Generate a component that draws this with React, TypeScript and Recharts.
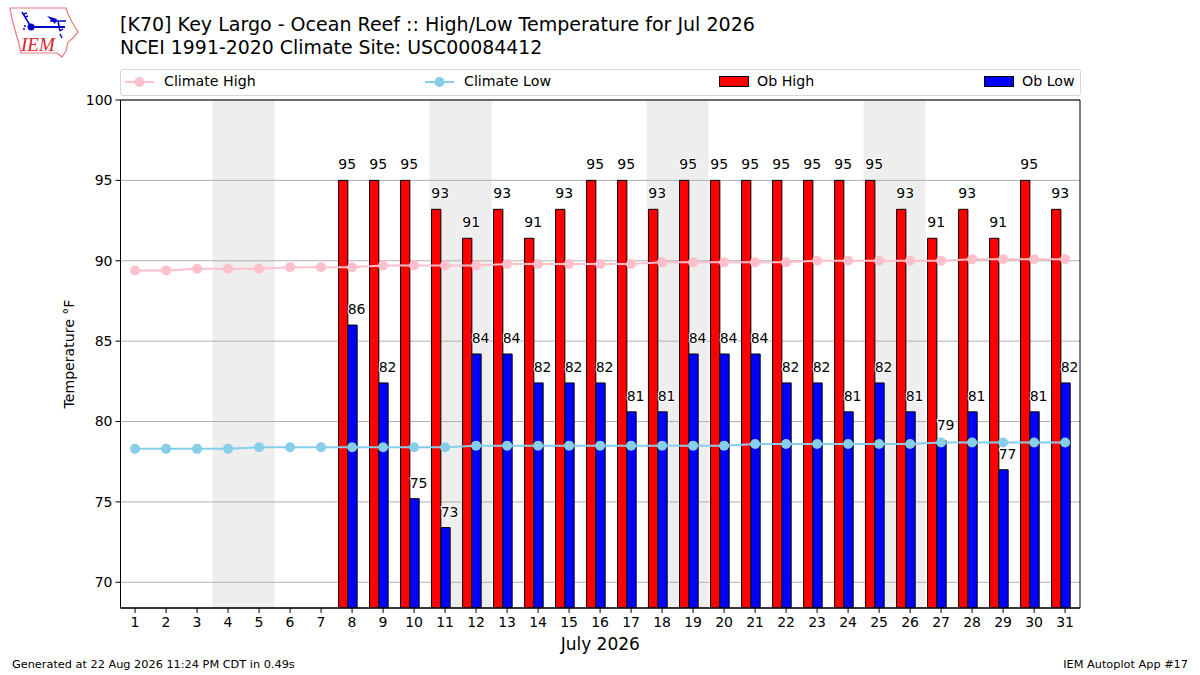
import {
  ComposedChart, Bar, Line, XAxis, YAxis, CartesianGrid, ReferenceArea, LabelList,
} from 'recharts'

const FONT = '"DejaVu Sans", sans-serif'

const days = [1, 2, 3, 4, 5, 6, 7, 8, 9, 10, 11, 12, 13, 14, 15, 16, 17, 18, 19, 20, 21, 22, 23, 24, 25, 26, 27, 28, 29, 30, 31]
const climateHigh = [89.4, 89.4, 89.5, 89.5, 89.5, 89.6, 89.6, 89.6, 89.7, 89.7, 89.7, 89.7, 89.8, 89.8, 89.8, 89.8, 89.8, 89.9, 89.9, 89.9, 89.9, 89.9, 90, 90, 90, 90, 90, 90.1, 90.1, 90.1, 90.1]
const climateLow = [78.3, 78.3, 78.3, 78.3, 78.4, 78.4, 78.4, 78.4, 78.4, 78.4, 78.4, 78.5, 78.5, 78.5, 78.5, 78.5, 78.5, 78.5, 78.5, 78.5, 78.6, 78.6, 78.6, 78.6, 78.6, 78.6, 78.7, 78.7, 78.7, 78.7, 78.7]

// obs start on the 8th, bars use the raw value, labels the rounded one
const obHigh = [null, null, null, null, null, null, null, 95, 95, 95, 93.2, 91.4, 93.2, 91.4, 93.2, 95, 95, 93.2, 95, 95, 95, 95, 95, 95, 95, 93.2, 91.4, 93.2, 91.4, 95, 93.2]
const obLow = [null, null, null, null, null, null, null, 86, 82.4, 75.2, 73.4, 84.2, 84.2, 82.4, 82.4, 82.4, 80.6, 80.6, 84.2, 84.2, 84.2, 82.4, 82.4, 80.6, 82.4, 80.6, 78.8, 80.6, 77, 80.6, 82.4]
const obHighLabels = [null, null, null, null, null, null, null, 95, 95, 95, 93, 91, 93, 91, 93, 95, 95, 93, 95, 95, 95, 95, 95, 95, 95, 93, 91, 93, 91, 95, 93]
const obLowLabels = [null, null, null, null, null, null, null, 86, 82, 75, 73, 84, 84, 82, 82, 82, 81, 81, 84, 84, 84, 82, 82, 81, 82, 81, 79, 81, 77, 81, 82]

const yTicks = [70, 75, 80, 85, 90, 95, 100]
const weekends = [[3.5, 5.5], [10.5, 12.5], [17.5, 19.5], [24.5, 26.5]]

const titleLines = [
  '[K70] Key Largo - Ocean Reef :: High/Low Temperature for Jul 2026',
  'NCEI 1991-2020 Climate Site: USC00084412',
]
const footerLeft = 'Generated at 22 Aug 2026 11:24 PM CDT in 0.49s'
const footerRight = 'IEM Autoplot App #17'

const rows = days.map((day, i) => ({
  day,
  climateHigh: climateHigh[i],
  climateLow: climateLow[i],
  obHigh: obHigh[i],
  obLow: obLow[i],
  obHighLabel: obHighLabels[i],
  obLowLabel: obLowLabels[i],
}))

const X_MIN = 0.53
const X_MAX = 31.48
const BAR_SHIFT = 0.13

function BarValue({ x, y, width, value }: any) {
  if (value == null) return null
  return (
    <text
      x={Number(x) + Number(width) - 0.6} y={Number(y) - 16}
      textAnchor="middle" dominantBaseline="central"
      fontFamily={FONT} fontSize={14} fill="#000"
      stroke="#fff" strokeWidth={2} paintOrder="stroke"
    >
      {value}
    </text>
  )
}

function Logo() {
  return (
    <svg width={90} height={62} style={{ position: 'absolute', left: 0, top: 0 }}>
      <path d="M10 8 L66 8 L68 14 L72 22 L78 32 L73 38 L68 42 L66 51 L62 57 L57 53 L21 53 L19 44 L15 30 L12 19 Z"
        fill="none" stroke="#e87b80" strokeWidth={1.2} />
      <g stroke="#0000c8" strokeWidth={1.5} fill="none">
        <path d="M31 27 L65 27" strokeWidth={2} />
        <path d="M31 27 L25 17 L22 12 M24 14 L27 13 M25 17 L28 16" />
        <path d="M50 21 L66 21 M58 21 L60 31 M60 31 L63 29 M60 34 L62 38" />
      </g>
      <circle cx={31} cy={27} r={3.5} fill="#0000c8" />
      <path d="M47 16 L57 19 L55 24 Z" fill="#0000c8" />
      <circle cx={24} cy={29} r={1} fill="#0000c8" />
      <circle cx={25} cy={26} r={1} fill="#0000c8" />
      <text x={21} y={51} fontFamily='"Liberation Serif", serif' fontStyle="italic" fontSize={19} fill="#d8232a">IEM</text>
    </svg>
  )
}

function LegendLine({ x, color, label }: { x: number; color: string; label: string }) {
  return (
    <>
      <svg width={32} height={16} style={{ position: 'absolute', left: x, top: 4 }}>
        <line x1={1} x2={30} y1={8} y2={8} stroke={color} strokeWidth={2} />
        <circle cx={15.5} cy={8} r={5} fill={color} />
      </svg>
      <span style={{ position: 'absolute', left: x + 40, top: 3 }}>{label}</span>
    </>
  )
}

function LegendBox({ x, color, label }: { x: number; color: string; label: string }) {
  return (
    <>
      <div style={{ position: 'absolute', left: x, top: 6, width: 28, height: 9, background: color, border: '1px solid #000' }} />
      <span style={{ position: 'absolute', left: x + 38, top: 3 }}>{label}</span>
    </>
  )
}

export default function App() {
  return (
    <div style={{ position: 'absolute', left: 0, top: 0, width: 1200, height: 675, background: '#fff', overflow: 'hidden', fontFamily: FONT, color: '#000' }}>
      <Logo />
      <div style={{ position: 'absolute', left: 120, top: 13, lineHeight: '23px', whiteSpace: 'nowrap' }}>
        <div style={{ fontSize: 19.05 }}>{titleLines[0]}</div>
        <div style={{ fontSize: 18.9 }}>{titleLines[1]}</div>
      </div>

      <div style={{ position: 'absolute', left: 120, top: 69, width: 959, height: 25, border: '1px solid #d6d6d6', borderRadius: 3, fontSize: 14.2, lineHeight: '17px', whiteSpace: 'nowrap' }}>
        <LegendLine x={3} color="pink" label="Climate High" />
        <LegendLine x={303} color="skyblue" label="Climate Low" />
        <LegendBox x={598} color="#ff0000" label="Ob High" />
        <LegendBox x={863} color="#0000ff" label="Ob Low" />
      </div>

      <div style={{ position: 'absolute', left: 0, top: 0 }}>
        <ComposedChart
          width={1200} height={675} data={rows}
          margin={{ top: 100, right: 120, bottom: 37, left: 60.5 }}
          barGap={0} barSize={9.3}
        >
          {weekends.map(([a, b]) => (
            <ReferenceArea key={a} x1={a} x2={b} y1={68.4} y2={100} fill="#eeeeee" fillOpacity={1} stroke="none" zIndex={-200} />
          ))}
          <CartesianGrid horizontal vertical={false} stroke="#b0b0b0" strokeWidth={1} />
          <XAxis
            dataKey="day" type="number" domain={[X_MIN, X_MAX]} ticks={days} interval={0} allowDataOverflow
            height={30} tickSize={5} tickMargin={4} stroke="#000"
            tick={{ fontFamily: FONT, fontSize: 14, fill: '#000' }}
            label={{ value: 'July 2026', position: 'insideBottom', offset: -12, fontFamily: FONT, fontSize: 17, fill: '#000' }}
          />
          <XAxis xAxisId="bars" dataKey="day" type="number" domain={[X_MIN + BAR_SHIFT, X_MAX + BAR_SHIFT]} ticks={days} allowDataOverflow hide />
          <YAxis
            domain={[68.4, 100]} ticks={yTicks} interval={0} allowDataOverflow
            width={60} tickSize={5} tickMargin={3} stroke="#000"
            tick={{ fontFamily: FONT, fontSize: 14, fill: '#000' }}
            label={{ value: 'Temperature °F', angle: -90, position: 'insideLeft', offset: 8, style: { textAnchor: 'middle' }, fontFamily: FONT, fontSize: 14.1, fill: '#000' }}
          />
          <Bar xAxisId="bars" dataKey="obHigh" fill="#ff0000" stroke="#000" strokeWidth={1} isAnimationActive={false}>
            <LabelList dataKey="obHighLabel" content={BarValue} />
          </Bar>
          <Bar xAxisId="bars" dataKey="obLow" fill="#0000ff" stroke="#000" strokeWidth={1} isAnimationActive={false}>
            <LabelList dataKey="obLowLabel" content={BarValue} />
          </Bar>
          <Line dataKey="climateHigh" stroke="pink" strokeWidth={2} dot={{ r: 5, fill: 'pink', stroke: 'pink', strokeWidth: 0 }} activeDot={false} isAnimationActive={false} />
          <Line dataKey="climateLow" stroke="skyblue" strokeWidth={2} dot={{ r: 5, fill: 'skyblue', stroke: 'skyblue', strokeWidth: 0 }} activeDot={false} isAnimationActive={false} />
          <ReferenceArea x1={X_MIN} x2={X_MAX} y1={68.4} y2={100} fill="none" stroke="#000" strokeWidth={1} zIndex={1500} />
        </ComposedChart>
      </div>

      <div style={{ position: 'absolute', left: 12, top: 658, fontSize: 11.3, whiteSpace: 'nowrap' }}>{footerLeft}</div>
      <div style={{ position: 'absolute', right: 12, top: 658, fontSize: 11.3, whiteSpace: 'nowrap' }}>{footerRight}</div>
    </div>
  )
}
